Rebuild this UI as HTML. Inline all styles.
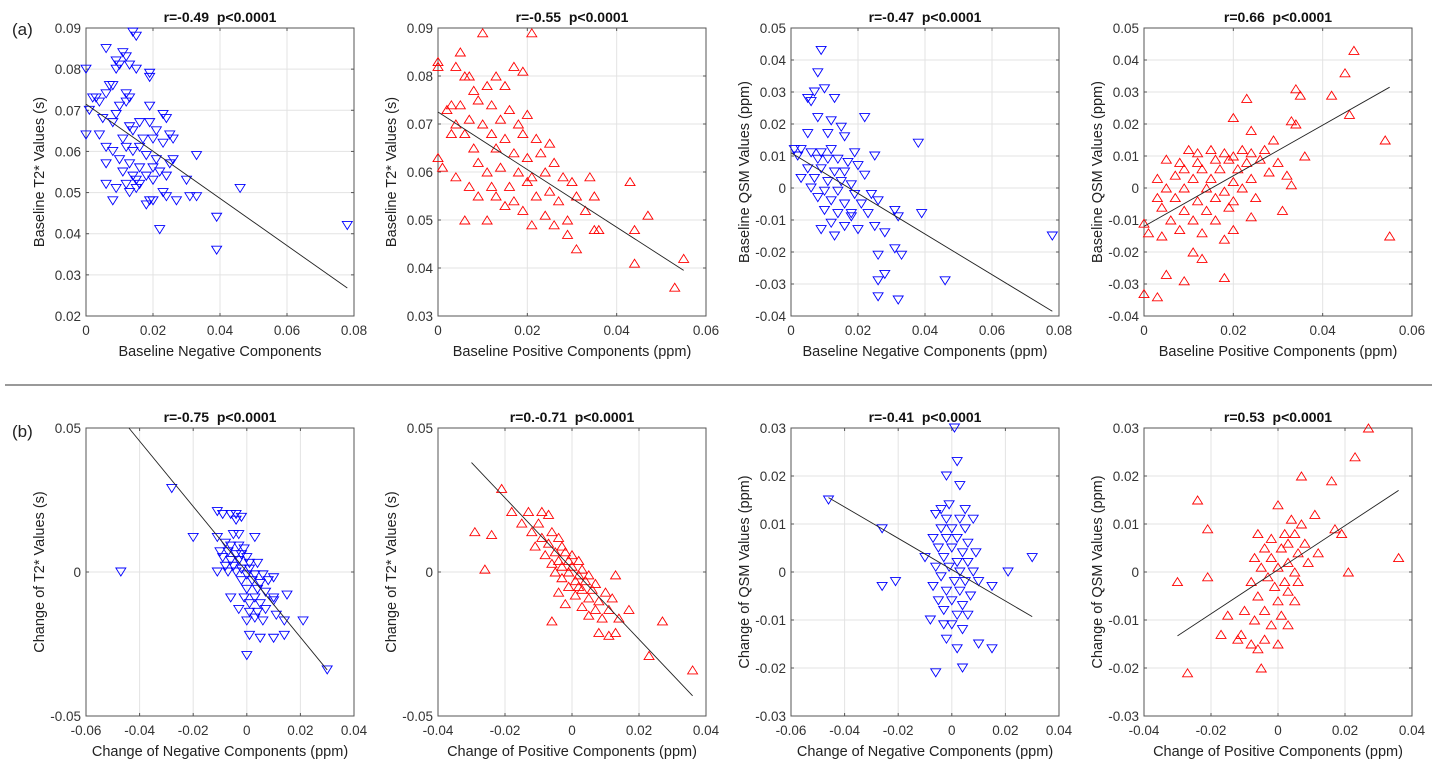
<!DOCTYPE html>
<html><head><meta charset="utf-8">
<style>
html,body{margin:0;padding:0;background:#fff;}
svg{display:block;font-family:"Liberation Sans",Arial,sans-serif;}
</style></head>
<body>
<svg id="fig" width="1437" height="771" viewBox="0 0 1437 771" xmlns="http://www.w3.org/2000/svg">
<text x="12" y="35" font-size="17" fill="#222">(a)</text>
<text x="12" y="437" font-size="17" fill="#222">(b)</text>
<line x1="5" y1="385" x2="1432" y2="385" stroke="#333" stroke-width="1"/>
</svg>
<script>
// ---- data arrays ----
const a1X=[0.0,0.078,0.046,0.039,0.039,0.022,0.033,0.031,0.033,0.030,0.027,0.026,0.014,0.015,0.006,0.011,0.012,0.009,0.010,0.013,0.015,0.019,0.019,0.009,0.007,0.008,0.006,0.012,0.013,0.003,0.002,0.004,0.012,0.010,0.019,0.001,0.009,0.023,0.024,0.005,0.008,0.013,0.016,0.019,0.014,0.021,0.025,0.0,0.004,0.011,0.017,0.020,0.026,0.006,0.012,0.016,0.023,0.008,0.014,0.018,0.021,0.010,0.013,0.025,0.006,0.016,0.020,0.011,0.014,0.018,0.022,0.024,0.015,0.020,0.012,0.006,0.009,0.016,0.013,0.023,0.024,0.008,0.019,0.018,0.020,0.015];
const a1Y=[0.080,0.042,0.051,0.044,0.036,0.041,0.059,0.049,0.049,0.053,0.048,0.058,0.089,0.088,0.085,0.084,0.083,0.082,0.081,0.081,0.080,0.079,0.078,0.080,0.076,0.076,0.074,0.074,0.073,0.073,0.073,0.072,0.072,0.071,0.071,0.070,0.069,0.069,0.068,0.068,0.067,0.066,0.067,0.067,0.065,0.065,0.064,0.064,0.064,0.063,0.063,0.063,0.063,0.061,0.061,0.061,0.062,0.060,0.060,0.059,0.058,0.058,0.057,0.057,0.057,0.056,0.056,0.055,0.054,0.054,0.055,0.054,0.053,0.053,0.052,0.052,0.051,0.052,0.050,0.050,0.049,0.048,0.048,0.047,0.048,0.051];
const a1Fit=[[0,0.0715],[0.078,0.0268]];

const a2X=[0,0,0.005,0.010,0.021,0.004,0.006,0.007,0.013,0.017,0.019,0.011,0.008,0.015,0.003,0.002,0.005,0.009,0.012,0.016,0.020,0.007,0.004,0.010,0.014,0.018,0.003,0.006,0.012,0.015,0.019,0.022,0.025,0,0.008,0.013,0.017,0.020,0.023,0.026,0.001,0.004,0.009,0.011,0.014,0.018,0.021,0.024,0.028,0.030,0.007,0.012,0.016,0.020,0.025,0.034,0.009,0.013,0.017,0.022,0.027,0.031,0.035,0.015,0.019,0.024,0.029,0.033,0.011,0.006,0.021,0.026,0.031,0.035,0.036,0.043,0.044,0.047,0.044,0.053,0.055,0.029];
const a2Y=[0.083,0.082,0.085,0.089,0.089,0.082,0.080,0.080,0.080,0.082,0.081,0.078,0.077,0.078,0.074,0.073,0.074,0.075,0.074,0.073,0.072,0.071,0.070,0.070,0.071,0.070,0.068,0.068,0.068,0.067,0.068,0.067,0.066,0.063,0.065,0.065,0.064,0.063,0.064,0.062,0.061,0.059,0.062,0.060,0.061,0.060,0.059,0.060,0.059,0.058,0.057,0.057,0.057,0.058,0.056,0.059,0.055,0.055,0.054,0.055,0.054,0.055,0.055,0.053,0.052,0.051,0.050,0.052,0.050,0.050,0.049,0.049,0.044,0.048,0.048,0.058,0.048,0.051,0.041,0.036,0.042,0.047];
const a2Fit=[[0,0.0725],[0.055,0.0395]];

const a3X=[0.009,0.008,0.007,0.010,0.005,0.006,0.013,0.008,0.015,0.012,0.011,0.022,0.016,0.005,0.003,0.001,0.002,0.006,0.009,0.012,0.019,0.025,0.008,0.011,0.014,0.017,0.020,0.005,0.009,0.013,0.016,0.022,0.003,0.007,0.011,0.015,0.018,0.006,0.010,0.014,0.019,0.024,0.008,0.012,0.016,0.021,0.026,0.010,0.014,0.018,0.023,0.031,0.039,0.012,0.016,0.020,0.025,0.009,0.013,0.032,0.028,0.026,0.031,0.033,0.028,0.026,0.026,0.032,0.046,0.078,0.038,0.018];
const a3Y=[0.043,0.036,0.030,0.031,0.028,0.027,0.028,0.022,0.019,0.021,0.017,0.022,0.016,0.017,0.012,0.012,0.010,0.011,0.011,0.012,0.011,0.010,0.009,0.009,0.009,0.008,0.007,0.006,0.006,0.005,0.005,0.004,0.003,0.003,0.002,0.002,0.001,0.0,-0.001,-0.001,-0.002,-0.002,-0.003,-0.004,-0.005,-0.005,-0.004,-0.007,-0.008,-0.009,-0.008,-0.007,-0.008,-0.011,-0.012,-0.013,-0.012,-0.013,-0.015,-0.009,-0.014,-0.021,-0.019,-0.021,-0.027,-0.029,-0.034,-0.035,-0.029,-0.015,0.014,-0.008];
const a3Fit=[[0,0.011],[0.078,-0.0385]];

const a4X=[0.047,0.045,0.034,0.035,0.042,0.023,0.046,0.034,0.033,0.024,0.029,0.036,0.054,0.020,0.010,0.012,0.015,0.018,0.020,0.022,0.024,0.027,0.005,0.008,0.012,0.016,0.019,0.023,0.026,0.030,0.009,0.013,0.017,0.021,0.028,0.032,0.003,0.007,0.011,0.015,0.020,0.024,0.033,0.005,0.009,0.014,0.018,0.022,0.003,0.007,0.012,0.016,0.020,0.025,0.004,0.009,0.014,0.019,0.024,0.031,0.006,0.011,0.016,0.0,0.001,0.004,0.008,0.013,0.018,0.011,0.013,0.005,0.009,0.018,0.0,0.003,0.055,0.020];
const a4Y=[0.043,0.036,0.031,0.029,0.029,0.028,0.023,0.020,0.021,0.018,0.015,0.010,0.015,0.022,0.012,0.011,0.012,0.011,0.010,0.012,0.011,0.012,0.009,0.008,0.008,0.009,0.009,0.008,0.009,0.008,0.006,0.006,0.006,0.006,0.005,0.004,0.003,0.004,0.003,0.003,0.002,0.003,0.001,0.0,0.0,0.0,-0.001,0.0,-0.003,-0.003,-0.004,-0.003,-0.004,-0.003,-0.006,-0.007,-0.007,-0.006,-0.009,-0.007,-0.010,-0.010,-0.010,-0.011,-0.014,-0.015,-0.013,-0.014,-0.016,-0.020,-0.022,-0.027,-0.029,-0.028,-0.033,-0.034,-0.015,-0.013];
const a4Fit=[[0,-0.012],[0.055,0.0315]];

const b1X=[-0.047,-0.028,-0.020,-0.011,-0.006,-0.004,-0.002,-0.004,-0.009,0.003,-0.005,-0.003,-0.011,-0.008,-0.006,-0.003,-0.001,-0.010,-0.007,-0.004,-0.002,0.0,-0.009,-0.006,-0.003,0.001,0.004,-0.008,-0.005,-0.002,0.001,-0.011,-0.007,-0.004,0.0,0.003,0.006,0.010,-0.002,0.002,0.005,0.008,0.0,0.004,0.007,-0.001,0.003,0.010,-0.006,0.015,0.001,0.005,0.010,-0.003,0.001,0.004,0.007,0.0,0.003,0.006,0.011,0.014,0.021,0.001,0.005,0.010,0.014,0.0,0.030];
const b1Y=[0.0,0.029,0.012,0.021,0.020,0.020,0.019,0.018,0.020,0.012,0.013,0.013,0.012,0.010,0.009,0.009,0.008,0.007,0.007,0.006,0.006,0.005,0.005,0.004,0.004,0.003,0.003,0.002,0.002,0.001,0.001,0.0,0.0,0.0,-0.001,-0.001,-0.001,-0.002,-0.003,-0.003,-0.004,-0.003,-0.006,-0.006,-0.007,-0.009,-0.009,-0.009,-0.009,-0.008,-0.011,-0.011,-0.010,-0.013,-0.014,-0.014,-0.013,-0.017,-0.016,-0.017,-0.015,-0.017,-0.017,-0.022,-0.023,-0.023,-0.022,-0.029,-0.034];
const b1Fit=[[-0.044,0.05],[0.030,-0.034]];

const b2X=[-0.021,-0.018,-0.029,-0.024,-0.026,-0.013,-0.009,-0.007,-0.010,-0.015,-0.012,-0.006,-0.009,-0.004,-0.007,-0.003,-0.011,-0.005,-0.002,0.000,-0.008,-0.004,-0.001,0.002,-0.006,-0.003,0.000,0.003,-0.005,-0.001,0.002,0.005,-0.003,0.001,0.004,0.007,-0.001,0.003,0.006,0.010,0.013,-0.004,0.001,0.005,0.008,0.012,-0.002,0.003,0.007,0.011,0.017,0.005,0.009,0.014,-0.006,0.008,0.011,0.013,0.027,0.023,0.036,0.002];
const b2Y=[0.029,0.021,0.014,0.013,0.001,0.021,0.021,0.020,0.017,0.017,0.014,0.014,0.012,0.012,0.010,0.009,0.009,0.007,0.007,0.006,0.006,0.004,0.004,0.004,0.003,0.002,0.002,0.001,0.0,0.0,-0.001,-0.001,-0.002,-0.003,-0.003,-0.004,-0.005,-0.006,-0.006,-0.007,-0.001,-0.007,-0.008,-0.009,-0.010,-0.009,-0.011,-0.012,-0.013,-0.013,-0.013,-0.015,-0.016,-0.016,-0.017,-0.021,-0.022,-0.021,-0.017,-0.029,-0.034,-0.005];
const b2Fit=[[-0.030,0.038],[0.036,-0.043]];

const b3X=[-0.046,-0.026,-0.026,-0.021,0.001,0.002,-0.002,0.003,-0.004,-0.001,0.005,-0.006,-0.002,0.003,0.008,-0.004,0.0,0.005,-0.007,-0.002,0.002,0.006,-0.005,0.0,0.004,0.009,-0.010,-0.003,0.002,0.006,-0.006,-0.001,0.003,0.008,0.030,0.021,-0.004,0.001,0.005,0.010,-0.007,-0.002,0.003,0.007,0.015,-0.005,0.0,0.004,-0.003,0.002,0.006,-0.008,0.0,0.004,0.010,0.015,-0.002,0.002,-0.006,0.004,-0.003];
const b3Y=[0.015,0.009,-0.003,-0.002,0.030,0.023,0.020,0.018,0.013,0.014,0.013,0.012,0.011,0.011,0.011,0.009,0.009,0.009,0.007,0.007,0.007,0.006,0.005,0.005,0.004,0.004,0.003,0.003,0.002,0.002,0.001,0.001,0.0,0.0,0.003,0.0,-0.001,-0.002,-0.002,-0.002,-0.003,-0.004,-0.004,-0.005,-0.003,-0.006,-0.006,-0.007,-0.008,-0.009,-0.009,-0.010,-0.011,-0.012,-0.015,-0.016,-0.014,-0.016,-0.021,-0.020,-0.011];
const b3Fit=[[-0.046,0.0155],[0.030,-0.0093]];

const b4X=[0.027,0.023,0.007,0.016,-0.024,0.000,0.011,-0.021,0.004,0.007,0.017,0.019,-0.006,0.002,0.005,-0.002,0.003,0.008,-0.004,0.001,0.006,0.012,-0.007,-0.002,0.003,0.009,-0.005,0.0,0.005,0.036,0.021,-0.003,0.002,0.006,-0.008,-0.030,-0.021,-0.001,0.003,-0.006,0.000,0.005,-0.010,-0.004,0.001,-0.015,-0.007,-0.002,0.003,-0.017,-0.011,-0.008,0.000,-0.006,-0.004,-0.005,-0.027,-0.012];
const b4Y=[0.030,0.024,0.020,0.019,0.015,0.014,0.012,0.009,0.011,0.010,0.009,0.008,0.008,0.008,0.008,0.007,0.006,0.006,0.005,0.005,0.004,0.004,0.003,0.003,0.002,0.002,0.001,0.001,0.0,0.003,0.0,-0.001,-0.002,-0.002,-0.002,-0.002,-0.001,-0.003,-0.004,-0.005,-0.006,-0.006,-0.008,-0.008,-0.009,-0.009,-0.010,-0.011,-0.011,-0.013,-0.013,-0.015,-0.015,-0.016,-0.014,-0.020,-0.021,-0.014];
const b4Fit=[[-0.030,-0.0133],[0.036,0.017]];

// tick arrays
const xTicksA13=[0,0.02,0.04,0.06,0.08];
const xTicksA24=[0,0.02,0.04,0.06];
const yTicksA1=[0.02,0.03,0.04,0.05,0.06,0.07,0.08,0.09];
const yTicksA2=[0.03,0.04,0.05,0.06,0.07,0.08,0.09];
const yTicksA34=[-0.04,-0.03,-0.02,-0.01,0,0.01,0.02,0.03,0.04,0.05];
const xTicksB13=[-0.06,-0.04,-0.02,0,0.02,0.04];
const xTicksB24=[-0.04,-0.02,0,0.02,0.04];
const yTicksB12=[-0.05,0,0.05];
const yTicksB34=[-0.03,-0.02,-0.01,0,0.01,0.02,0.03];

const titles=["r=-0.49\u00a0\u00a0p<0.0001","r=-0.55\u00a0\u00a0p<0.0001","r=-0.47\u00a0\u00a0p<0.0001","r=0.66\u00a0\u00a0p<0.0001","r=-0.75\u00a0\u00a0p<0.0001","r=0.-0.71\u00a0\u00a0p<0.0001","r=-0.41\u00a0\u00a0p<0.0001","r=0.53\u00a0\u00a0p<0.0001"];

const NS="http://www.w3.org/2000/svg";
const svg=document.getElementById('fig');
function mk(tag,attrs,parent){const e=document.createElementNS(NS,tag);for(const k in attrs)e.setAttribute(k,attrs[k]);(parent||svg).appendChild(e);return e;}
function fmt(v){return String(parseFloat(v.toFixed(3)));}

const lefts=[86,438,791,1144];
const W=268;
const panels=[
 {c:0,top:28,bot:316,xs:a1X,ys:a1Y,fit:a1Fit,xt:xTicksA13,yt:yTicksA1,xr:[0,0.08],yr:[0.02,0.09],col:"#0000ff",down:true,xl:"Baseline Negative Components",yl:"Baseline T2* Values (s)"},
 {c:1,top:28,bot:316,xs:a2X,ys:a2Y,fit:a2Fit,xt:xTicksA24,yt:yTicksA2,xr:[0,0.06],yr:[0.03,0.09],col:"#ff0000",down:false,xl:"Baseline Positive Components (ppm)",yl:"Baseline T2* Values (s)"},
 {c:2,top:28,bot:316,xs:a3X,ys:a3Y,fit:a3Fit,xt:xTicksA13,yt:yTicksA34,xr:[0,0.08],yr:[-0.04,0.05],col:"#0000ff",down:true,xl:"Baseline Negative Components (ppm)",yl:"Baseline QSM Values (ppm)"},
 {c:3,top:28,bot:316,xs:a4X,ys:a4Y,fit:a4Fit,xt:xTicksA24,yt:yTicksA34,xr:[0,0.06],yr:[-0.04,0.05],col:"#ff0000",down:false,xl:"Baseline Positive Components (ppm)",yl:"Baseline QSM Values (ppm)"},
 {c:0,top:428,bot:716,xs:b1X,ys:b1Y,fit:b1Fit,xt:xTicksB13,yt:yTicksB12,xr:[-0.06,0.04],yr:[-0.05,0.05],col:"#0000ff",down:true,xl:"Change of Negative Components (ppm)",yl:"Change of T2* Values (s)"},
 {c:1,top:428,bot:716,xs:b2X,ys:b2Y,fit:b2Fit,xt:xTicksB24,yt:yTicksB12,xr:[-0.04,0.04],yr:[-0.05,0.05],col:"#ff0000",down:false,xl:"Change of Positive Components (ppm)",yl:"Change of T2* Values (s)"},
 {c:2,top:428,bot:716,xs:b3X,ys:b3Y,fit:b3Fit,xt:xTicksB13,yt:yTicksB34,xr:[-0.06,0.04],yr:[-0.03,0.03],col:"#0000ff",down:true,xl:"Change of Negative Components (ppm)",yl:"Change of QSM Values (ppm)"},
 {c:3,top:428,bot:716,xs:b4X,ys:b4Y,fit:b4Fit,xt:xTicksB24,yt:yTicksB34,xr:[-0.04,0.04],yr:[-0.03,0.03],col:"#ff0000",down:false,xl:"Change of Positive Components (ppm)",yl:"Change of QSM Values (ppm)"}
];

panels.forEach((p,i)=>{
  const L=lefts[p.c],R=L+W,T=p.top,B=p.bot;
  const sx=v=>L+(v-p.xr[0])/(p.xr[1]-p.xr[0])*W;
  const sy=v=>B-(v-p.yr[0])/(p.yr[1]-p.yr[0])*(B-T);
  const g=mk('g',{});
  
  
  mk('rect',{x:L,y:T,width:W,height:B-T,fill:'#fff'},g);
  p.xt.forEach(v=>{
    const x=sx(v);
    const gl=mk('line',{x1:x,y1:T,x2:x,y2:B,stroke:'#e3e3e3','stroke-width':1},g);
    
    
    const t=mk('text',{x:x,y:B+19,'font-size':13.5,'text-anchor':'middle',fill:'#333'},g);
    t.textContent=fmt(v);
    
    
    mk('line',{x1:x,y1:B,x2:x,y2:B-3,stroke:'#555'},g);
    mk('line',{x1:x,y1:T,x2:x,y2:T+3,stroke:'#555'},g);
  });
  p.yt.forEach(v=>{
    const y=sy(v);
    const gl=mk('line',{x1:L,y1:y,x2:R,y2:y,stroke:'#e3e3e3','stroke-width':1},g);
    
    
    const t=mk('text',{x:L-5,y:y+5,'font-size':13.5,'text-anchor':'end',fill:'#333'},g);
    t.textContent=fmt(v);
    
    
    mk('line',{x1:L,y1:y,x2:L+3,y2:y,stroke:'#555'},g);
    mk('line',{x1:R,y1:y,x2:R-3,y2:y,stroke:'#555'},g);
  });
  const box=mk('rect',{x:L,y:T,width:W,height:B-T,fill:'none',stroke:'#555','stroke-width':1},g);
  
  
  p.xs.forEach((xv,k)=>{
    const x=sx(xv),y=sy(p.ys[k]);
    const pts=p.down?`${x-5},${y-4} ${x+5},${y-4} ${x},${y+4}`:`${x-5},${y+4} ${x+5},${y+4} ${x},${y-4}`;
    const m=mk('polygon',{points:pts,fill:'none',stroke:p.col,'stroke-width':0.9},g);
    
    
  });
  const fl=mk('line',{x1:sx(p.fit[0][0]),y1:sy(p.fit[0][1]),x2:sx(p.fit[1][0]),y2:sy(p.fit[1][1]),stroke:'#222','stroke-width':0.9},g);
  
  
  const tt=mk('text',{x:L+W/2,y:T-6,'font-size':14,'font-weight':'bold','text-anchor':'middle',fill:'#111'},g);
  tt.textContent=titles[i];
  
  
  const xl=mk('text',{x:L+W/2,y:B+40,'font-size':14.5,'text-anchor':'middle',fill:'#222'},g);
  xl.textContent=p.xl;
  
  
  const yx=L-42,yy=(T+B)/2;
  const yl=mk('text',{x:yx,y:yy,'font-size':14.5,'text-anchor':'middle',fill:'#222',transform:`rotate(-90 ${yx} ${yy})`},g);
  yl.textContent=p.yl;
  
  
});
</script>
</body></html>
